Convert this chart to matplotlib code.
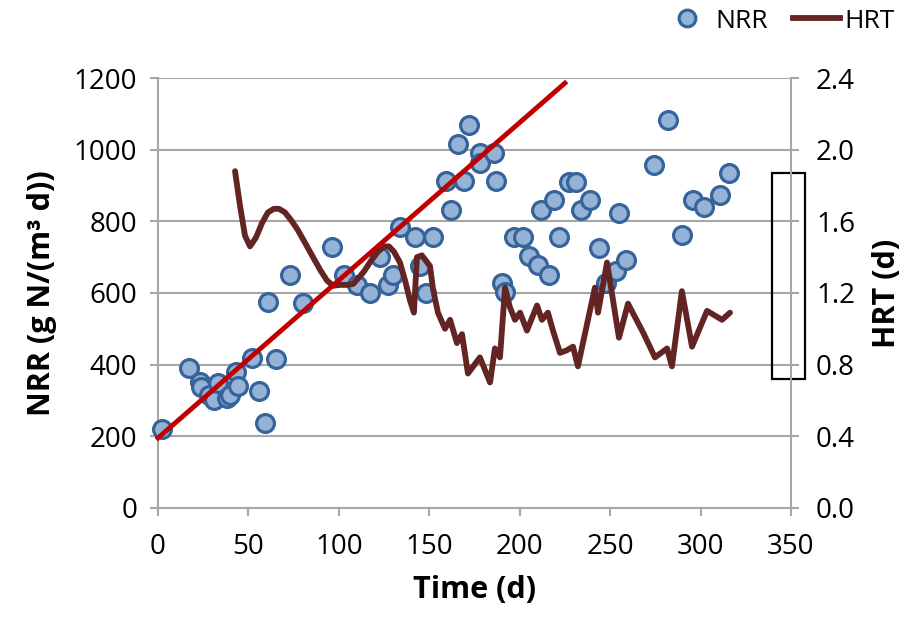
import matplotlib.pyplot as plt
from matplotlib.lines import Line2D
from matplotlib.patches import Rectangle
from matplotlib.ticker import FormatStrFormatter

plt.rcParams['font.family'] = ['Open Sans', 'DejaVu Sans']

# nitrogen removal rate, g N/(m3 d)
nrr_days = [2, 17, 23, 24, 28, 31, 33, 38, 40, 43, 44, 52, 56, 59, 61, 65,
            73, 80, 96, 103, 110, 117, 123, 127, 130, 134, 142, 145, 148,
            152, 159, 162, 166, 169, 172, 178, 178, 186, 187, 190, 192, 197,
            202, 205, 210, 212, 216, 219, 222, 227, 231, 234, 239, 244, 248,
            253, 255, 259, 274, 282, 290, 296, 302, 311, 316]
nrr = [220, 390, 352, 338, 315, 301, 348, 306, 315, 380, 339, 418, 325, 238,
       576, 415, 650, 571, 729, 650, 622, 599, 701, 622, 650, 783, 755, 676,
       601, 755, 913, 832, 1016, 913, 1069, 990, 962, 990, 913, 629, 604,
       755, 755, 703, 678, 832, 650, 860, 755, 911, 911, 832, 860, 725, 627,
       660, 822, 692, 957, 1083, 762, 860, 841, 874, 934]

# hydraulic retention time, d
hrt_days = [42.6, 45.3, 48.1, 50.9, 54.2, 57.5, 60.8, 64.1, 66.9, 70.2, 74.1,
            77.4, 81.3, 85.7, 89.6, 93.4, 96.8, 100.6, 104.5, 107.8, 110.6,
            113.9, 117.8, 121.6, 125.1, 127.7, 130.5, 133.8, 136.6, 139.3,
            141.5, 143.2, 145.9, 150.4, 152.1, 154.8, 158.7, 161.5, 165.3,
            168.1, 171.4, 178.0, 183.6, 186.3, 189.1, 191.9, 194.6, 197.4,
            200.2, 204.0, 209.6, 212.3, 215.6, 218.4, 222.3, 226.1, 229.5,
            232.2, 241.6, 243.3, 248.3, 251.6, 254.9, 259.9, 268.2, 274.8,
            281.5, 284.2, 289.7, 295.3, 303.6, 311.9, 316.3]
hrt = [1.88, 1.69, 1.52, 1.46, 1.51, 1.59, 1.65, 1.67, 1.67, 1.65, 1.60,
       1.55, 1.48, 1.40, 1.33, 1.27, 1.24, 1.245, 1.245, 1.25, 1.28,
       1.32, 1.38, 1.43, 1.46, 1.46, 1.43, 1.37, 1.27, 1.16,
       1.09, 1.40, 1.41, 1.35, 1.22, 1.09, 1.00, 1.05, 0.92,
       0.97, 0.75, 0.84, 0.70, 0.89, 0.84, 1.23, 1.12, 1.05,
       1.09, 0.99, 1.13, 1.05, 1.09, 0.99, 0.865, 0.88, 0.90,
       0.79, 1.23, 1.09, 1.37, 1.16, 0.95, 1.14, 0.98, 0.84,
       0.89, 0.79, 1.21, 0.90, 1.10, 1.05, 1.09]

# start-up trend of NRR
trend_days = [0, 225]
trend_nrr = [195, 1186]

grid_col = '#A6A6A6'
fig = plt.figure(figsize=(9.24, 6.2), dpi=100)
ax = fig.add_axes([0.171, 0.181, 0.685, 0.693])
ax2 = ax.twinx()

ax.scatter(nrr_days, nrr, s=165, color='#95B3D7', edgecolors='#35639A',
           linewidths=2.3, zorder=3, clip_on=False)
ax2.plot(hrt_days, hrt, color='#632523', lw=4.2, solid_joinstyle='round',
         solid_capstyle='round', zorder=4)
ax2.plot(trend_days, trend_nrr, color='#C00000', lw=3.5,
         transform=ax.transData, zorder=5, clip_on=False)

ax.set_xlim(0, 350)
ax.set_ylim(0, 1200)
ax2.set_ylim(0, 2.4)
ax.set_xticks(range(0, 351, 50))
ax.set_yticks(range(0, 1201, 200))
ax2.set_yticks([0, 0.4, 0.8, 1.2, 1.6, 2.0, 2.4])
ax2.yaxis.set_major_formatter(FormatStrFormatter('%.1f'))

ax.grid(axis='y', color=grid_col, lw=1.5)
ax.set_axisbelow(True)
for a in (ax, ax2):
    for s in a.spines.values():
        s.set_visible(False)
ax.spines['left'].set_visible(True)
ax.spines['bottom'].set_visible(True)
ax2.spines['right'].set_visible(True)
for s in (ax.spines['left'], ax.spines['bottom'], ax2.spines['right']):
    s.set_color(grid_col)
    s.set_linewidth(1.5)

ax.tick_params(axis='y', length=6, width=1.5, color=grid_col, pad=9, labelsize=20)
ax.tick_params(axis='x', length=6, width=1.5, color=grid_col, pad=12, labelsize=20)
ax2.tick_params(axis='y', length=6, width=1.5, color=grid_col, pad=12, labelsize=20)

ax.set_xlabel('Time (d)', fontsize=22, fontweight='bold', labelpad=10)
ax.set_ylabel('NRR (g N/(m³ d))', fontsize=22, fontweight='bold', labelpad=12)
ax2.set_ylabel('HRT (d)', fontsize=22, fontweight='bold', labelpad=12)

ax.add_patch(Rectangle((339.5, 360), 18.2, 575, fill=False, ec='black',
                       lw=1.6, clip_on=False, zorder=6))

handles = [Line2D([], [], ls='none', marker='o', ms=12, mfc='#95B3D7',
                  mec='#35639A', mew=2.3),
           Line2D([], [], color='#632523', lw=4.2)]
fig.legend(handles, ['NRR', 'HRT'], loc='center', bbox_to_anchor=(0.843, 0.966),
           ncol=2, frameon=False, fontsize=19, handlelength=1.8,
           columnspacing=0.95, handletextpad=0.15, borderpad=0.2)

fig.savefig('out.png', dpi=100)
